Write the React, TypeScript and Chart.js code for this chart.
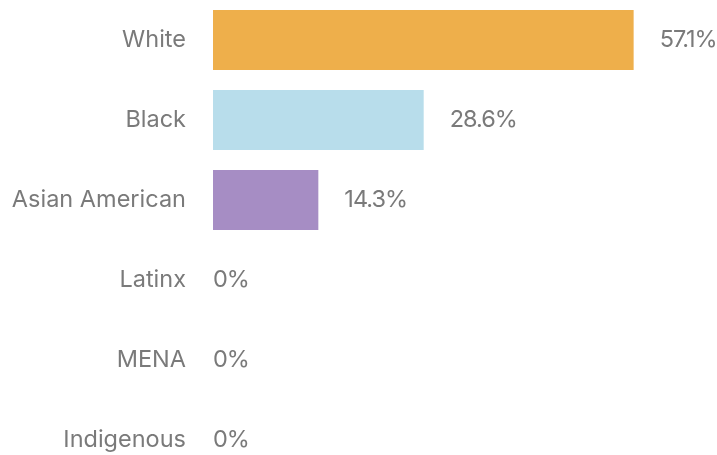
import React, { useEffect, useRef } from "react";
import { Chart, registerables } from "chart.js";

Chart.register(...registerables);

const categories = ["White", "Black", "Asian American", "Latinx", "MENA", "Indigenous"];
const values = [57.1, 28.6, 14.3, 0, 0, 0];
const valueLabels = ["57.1%", "28.6%", "14.3%", "0%", "0%", "0%"];
const barColors = ["#EEAF4B", "#B8DDEB", "#A68DC4", "#A68DC4", "#A68DC4", "#A68DC4"];

const FONT = "Inter, 'DejaVu Sans', sans-serif";
const TEXT = "#7a7a7a";

const valueLabelPlugin = {
  id: "valueLabels",
  afterDatasetsDraw(chart: any) {
    const { ctx } = chart;
    const meta = chart.getDatasetMeta(0);
    ctx.save();
    ctx.font = `23.5px ${FONT}`;
    ctx.fillStyle = TEXT;
    ctx.textAlign = "left";
    ctx.textBaseline = "middle";
    try {
      (ctx as any).letterSpacing = "-1px";
    } catch (e) {}
    meta.data.forEach((bar: any, i: number) => {
      const v = values[i];
      const x = v > 0 ? bar.x + 26 : bar.base;
      ctx.fillText(valueLabels[i], x, bar.y);
    });
    try {
      (ctx as any).letterSpacing = "0px";
    } catch (e) {}
    ctx.restore();
  },
};

export default function App() {
  const ref = useRef<HTMLCanvasElement | null>(null);
  useEffect(() => {
    if (!ref.current) return;
    const chart = new Chart(ref.current, {
      type: "bar",
      data: {
        labels: categories,
        datasets: [
          {
            data: values,
            backgroundColor: barColors,
            borderWidth: 0,
            categoryPercentage: 0.75,
            barPercentage: 1,
          },
        ],
      },
      options: {
        indexAxis: "y",
        responsive: false,
        animation: false,
        layout: { padding: { left: 0, right: 62, top: 0, bottom: 0 } },
        plugins: { legend: { display: false }, tooltip: { enabled: false } },
        scales: {
          x: {
            display: false,
            min: 0,
            max: 60,
          },
          y: {
            grid: { display: false },
            border: { display: false },
            afterFit: (s: any) => {
              s.width = 213;
              s.paddingTop = 0;
              s.paddingBottom = 0;
            },
            ticks: {
              padding: 19,
              color: TEXT,
              font: { family: FONT, size: 23.5 },
            },
          },
        },
      },
      plugins: [valueLabelPlugin],
    });
    return () => chart.destroy();
  }, []);
  return (
    <div style={{ position: "absolute", top: 0, left: 0 }}>
      <canvas ref={ref} width={717} height={480} style={{ display: "block" }} />
    </div>
  );
}
